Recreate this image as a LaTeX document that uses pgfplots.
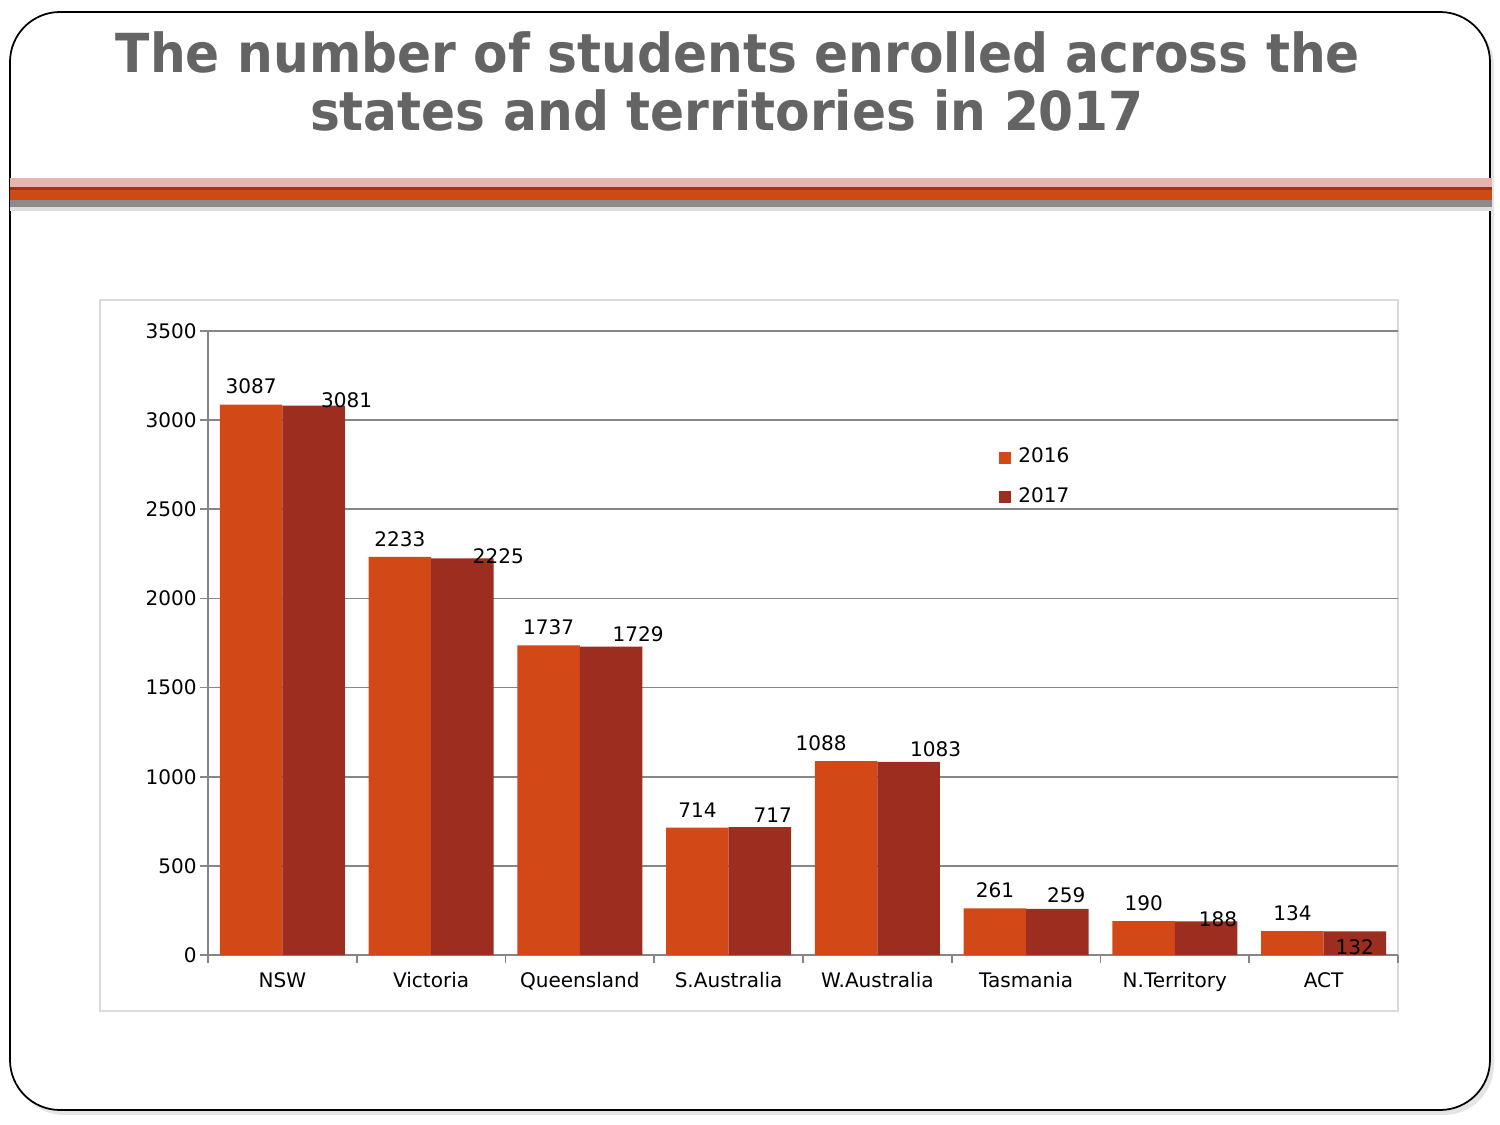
\documentclass[border=0pt]{standalone}
\usepackage{fontspec}
\setmainfont{DejaVu Sans}
\usepackage{pgfplots}
\usepackage{pgfplotstable}
\pgfplotsset{compat=1.18}
\definecolor{cA}{HTML}{D34817}
\definecolor{cB}{HTML}{9D2E1F}
\definecolor{titlegray}{HTML}{646464}
\definecolor{axgray}{HTML}{868686}
\definecolor{framegray}{HTML}{DADADA}
\definecolor{bandpink}{HTML}{E9B3AE}
\definecolor{banddark}{HTML}{A3321A}
\definecolor{bandorange}{HTML}{CE4A14}
\definecolor{bandgray}{HTML}{8E8A8A}

% x = category, y = value, dx/dy = label offset in px
\pgfplotstableread{
x y dx dy
0 3087 0 18
1 2233 0 18
2 1737 0 18
3 714 0 18
4 1088 -25 18
5 261 0 18
6 190 0 18
7 134 0 18
}\tabA
\pgfplotstableread{
x y dx dy
0 3081 33 6
1 2225 36 2
2 1729 27 13
3 717 13 12
4 1083 27 13
5 259 9 14
6 188 12 2
7 132 0 -16
}\tabB

\begin{document}
\begin{tikzpicture}
\useasboundingbox (0,0) rectangle (15,11.25);
% slide frame with a soft shadow
\fill[black!10, rounded corners=0.5cm] (0.14,0.10) rectangle (14.94,11.09);
\fill[white, draw=black, line width=0.5pt, rounded corners=0.5cm] (0.10,0.15) rectangle (14.90,11.13);
% title
\node[anchor=base, font=\fontsize{14.3}{17}\selectfont\bfseries, text=titlegray] at (7.38,10.52) {\scalebox{1}[1.07]{The number of students enrolled across the}};
\node[anchor=base, font=\fontsize{14.3}{17}\selectfont\bfseries, text=titlegray] at (7.27,9.94) {\scalebox{1}[1.07]{states and territories in 2017}};
% decorative band
\fill[gray!25] (0.10,9.14) rectangle (14.92,9.18);
\fill[bandgray] (0.10,9.18) rectangle (14.92,9.25);
\fill[bandorange] (0.10,9.25) rectangle (14.92,9.35);
\fill[banddark] (0.10,9.35) rectangle (14.92,9.38);
\fill[bandpink] (0.10,9.38) rectangle (14.92,9.47);
% chart frame
\draw[framegray, line width=0.6pt] (1.00,1.14) rectangle (13.98,8.25);
\begin{axis}[
  at={(2.08cm,1.70cm)}, anchor=south west,
  scale only axis, width=11.90cm, height=6.24cm,
  ybar=0pt, bar width=0.42,
  xmin=-0.5, xmax=7.5, ymin=0, ymax=3500,
  ytick={0,500,...,3500},
  xtick={0,...,7},
  xticklabels={NSW,Victoria,Queensland,S.Australia,W.Australia,Tasmania,N.Territory,ACT},
  minor xtick={-0.5,0.5,...,7.5},
  axis x line*=bottom, axis y line*=left,
  tick align=outside,
  major tick length=0.08cm, minor tick length=0.08cm,
  major x tick style={draw=none},
  tick style={axgray, line width=0.5pt},
  axis line style={axgray, line width=0.5pt},
  ymajorgrids, grid style={axgray, line width=0.5pt},
  /pgf/number format/1000 sep={},
  /pgf/number format/assume math mode=true,
  tick label style={font=\fontsize{5.7}{7}\selectfont, text=black},
  yticklabel style={xshift=0.09cm},
  xticklabel style={yshift=0.03cm},
  legend style={at={(0.6645,0.825)}, anchor=north west, draw=none, fill=none,
    font=\fontsize{5.7}{7}\selectfont, row sep=0.05cm, inner sep=0pt},
  legend cell align=left,
  legend image code/.code={\fill[#1] (0cm,-0.06cm) rectangle (0.12cm,0.06cm);},
  nodes near coords,
  visualization depends on={\thisrow{dx} \as \labdx},
  visualization depends on={\thisrow{dy} \as \labdy},
  every node near coord/.append style={font=\fontsize{5.7}{7}\selectfont, text=black,
    anchor=center, xshift={\labdx*0.01cm}, yshift={\labdy*0.01cm}},
]
\addplot[fill=cA, draw=none] table[x=x, y=y] {\tabA};
\addplot[fill=cB, draw=none] table[x=x, y=y] {\tabB};
\legend{2016, 2017}
\end{axis}
\end{tikzpicture}
\end{document}
